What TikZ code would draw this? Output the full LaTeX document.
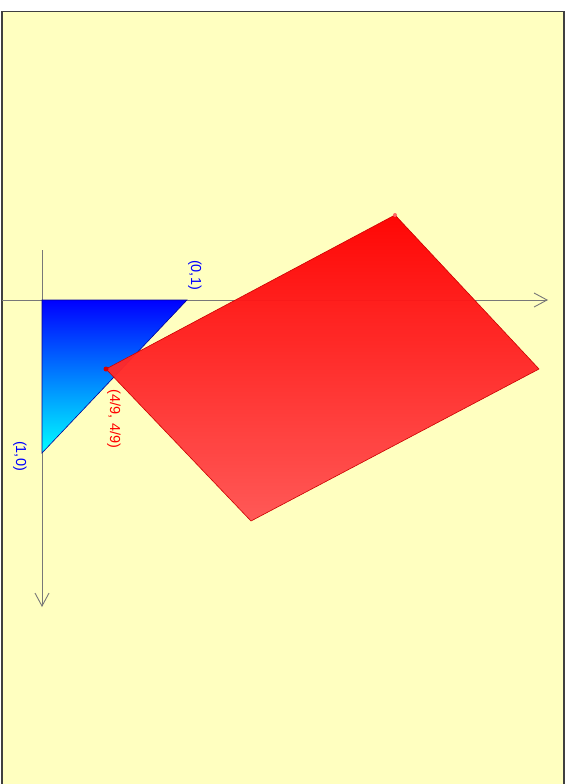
\documentclass[tikz,border=0pt]{standalone}
\usepackage{fontspec}
\setmainfont{Liberation Sans}
\usetikzlibrary{arrows.meta, positioning, calc}
\definecolor{paperyellow}{RGB}{255, 255, 192}
\definecolor{axisgray}{RGB}{120, 120, 120}

\begin{document}
\begin{tikzpicture}[
  x=1pt, y=-1pt,
  axis/.style={draw=axisgray, line width=0.9pt, -{Straight Barb[length=13pt, width=14pt, line width=0.9pt]}},
  lbl/.style={rotate=-90, inner sep=0pt, font=\fontsize{14.5}{16}\selectfont},
  corner/.style={circle, fill=red!85!black, inner sep=0pt, minimum size=5pt}
]
  \useasboundingbox (0,0) rectangle (568,784);
  % frame
  \draw[fill=paperyellow, draw=black!75, line width=1.2pt] (2,11.5) rectangle (564,790);

  % axes
  \coordinate (O) at (42,300);
  \coordinate (xs) at (2,300);
  \coordinate (xe) at (548,300);
  \coordinate (ys) at (42,250);
  \coordinate (ye) at (42,607);
  \draw[axis] (xs) -- (xe);
  \draw[axis] (ys) -- (ye);

  % triangle
  \coordinate (e1) at (42,453);
  \coordinate (e2) at (187,300);
  \draw[draw=blue!60!black, line width=0.6pt, top color=blue, bottom color=cyan] (O) -- (e2) -- (e1) -- cycle;

  % rectangle
  \coordinate (r1) at (106,369);
  \coordinate (r2) at (395,215);
  \coordinate (r3) at (539,369);
  \coordinate (r4) at (251,521);
  \draw[draw=red!80!black, line width=0.6pt, top color=red, bottom color=red!67!white, fill opacity=0.97] (r1) -- (r2) -- (r3) -- (r4) -- cycle;
  \node[corner] (p) at (r1) {};
  \node[corner, fill=red!60!white, minimum size=4pt] (q) at (r2) {};

  % labels
  \node[lbl, text=blue] (l01) at (195,275) {(0,1)};
  \node[lbl, text=blue] (l10) at (20,456) {(1,0)};
  \node[lbl, text=red] (l49) at (114,419) {(4/9, 4/9)};
\end{tikzpicture}
\end{document}
